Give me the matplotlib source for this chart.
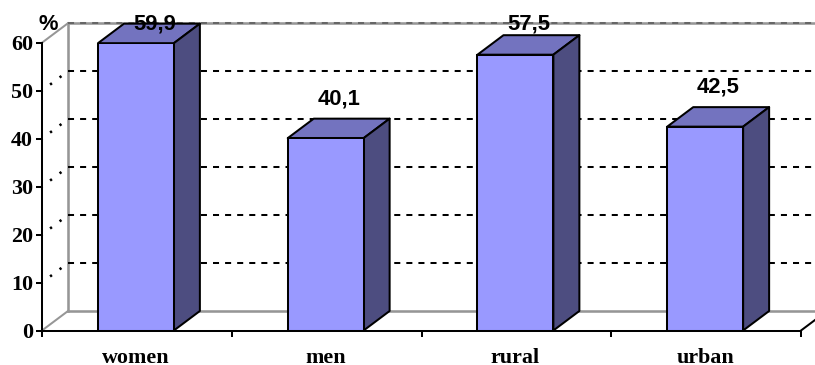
import matplotlib
matplotlib.use('Agg')
import matplotlib.pyplot as plt
from matplotlib.patches import Polygon

categories = ['women', 'men', 'rural', 'urban']
values = [59.9, 40.1, 57.5, 42.5]
value_labels = ['59,9', '40,1', '57,5', '42,5']
y_ticks = [0, 10, 20, 30, 40, 50, 60]

W, H = 815, 365
fig = plt.figure(figsize=(W / 100, H / 100), dpi=100)
ax = fig.add_axes([42 / W, (H - 330.5) / H, 759 / W, 287.8 / H])
ax.set_xlim(0, 4)
ax.set_ylim(0, 60)

# depth of the 3d box, in data units
dx = 26 / 189.75
dy = 19.5 / 4.797
bar_w = 0.4
centers = [i + 0.495 for i in range(len(categories))]
label_shift = [0.03, 0, 0, 0]

FRONT = '#9999FF'
TOP = '#7373BF'
SIDE = '#4D4D80'
WALL = '#969696'
LW = 1.45

# back wall and floor
ax.plot([dx, dx], [dy, 60 + dy], color=WALL, lw=LW + 0.4, clip_on=False, zorder=2)
ax.plot([0, dx], [0, dy], color=WALL, lw=LW, clip_on=False, zorder=1)
ax.plot([0, dx], [60, 60 + dy], color=WALL, lw=LW, clip_on=False, zorder=1)
ax.plot([dx, 4.2], [dy, dy], color=WALL, lw=LW + 0.4, clip_on=False, zorder=1)
ax.plot([dx, 4.2], [60 + dy, 60 + dy], color=WALL, lw=LW + 0.4, clip_on=False, zorder=1)
ax.plot([4, 4 + dx], [0, dy], color='black', lw=LW, clip_on=False, zorder=1)

# dashed grid on the back wall, two dots each on the side wall
for t in y_ticks[1:]:
    if t < 60:
        ax.plot([dx, 4.2], [t + dy, t + dy], color='black', lw=LW,
                linestyle=(0, (3, 3)), clip_on=False, zorder=2)
        ax.plot([0, dx], [t, t + dy], color='black', lw=LW + 0.4,
                linestyle=(0.7, (0.9, 3.73)), clip_on=False, zorder=2)
    else:
        # top edge: the dashes barely show through the grey wall line
        ax.plot([dx, 4.2], [t + dy, t + dy], color='#666666', lw=LW,
                linestyle=(0, (3, 3)), clip_on=False, zorder=2)

ax.bar(centers, values, width=bar_w, color=FRONT, edgecolor='black', linewidth=LW, zorder=4)

for c, v, lab, sh in zip(centers, values, value_labels, label_shift):
    l = c - bar_w / 2
    r = c + bar_w / 2
    ax.add_patch(Polygon([(l, v), (l + dx, v + dy), (r + dx, v + dy), (r, v)], closed=True,
                         facecolor=TOP, edgecolor='black', lw=LW, joinstyle='round',
                         clip_on=False, zorder=3))
    ax.add_patch(Polygon([(r, 0), (r + dx, dy), (r + dx, v + dy), (r, v)], closed=True,
                         facecolor=SIDE, edgecolor='black', lw=LW, joinstyle='round',
                         clip_on=False, zorder=3))
    # labels sit over the box, but stop at the top of the plot
    ly = min(v + dy + 4.1, 63.9)
    ax.text(c + dx / 2 + sh, ly, lab, ha='center', va='center', fontsize=15.8,
            fontweight='bold', family='Liberation Sans', clip_on=False, zorder=6)

ax.text(48.5 / 189.75 - 42 / 189.75, (330.5 - 24) / 4.797, '%', ha='center', va='center',
        fontsize=15.8, fontweight='bold', family='Liberation Sans', clip_on=False, zorder=6)

for s in ['top', 'right']:
    ax.spines[s].set_visible(False)
for s in ['left', 'bottom']:
    ax.spines[s].set_linewidth(LW)
    ax.spines[s].set_zorder(5)

ax.set_yticks(y_ticks)
ax.set_yticklabels([str(t) for t in y_ticks], family='Liberation Serif',
                   fontweight='bold', fontsize=15.8)
ax.tick_params(axis='y', length=4.3, width=LW, pad=2.2)
ax.set_xticks(range(5))
ax.set_xticklabels([])
ax.tick_params(axis='x', which='major', length=4, width=LW)
ax.set_xticks(centers, minor=True)
ax.set_xticklabels(categories, minor=True, family='Liberation Serif',
                   fontweight='bold', fontsize=15.8)
ax.tick_params(axis='x', which='minor', length=0, pad=12.8)

fig.savefig('out.png', dpi=100)
